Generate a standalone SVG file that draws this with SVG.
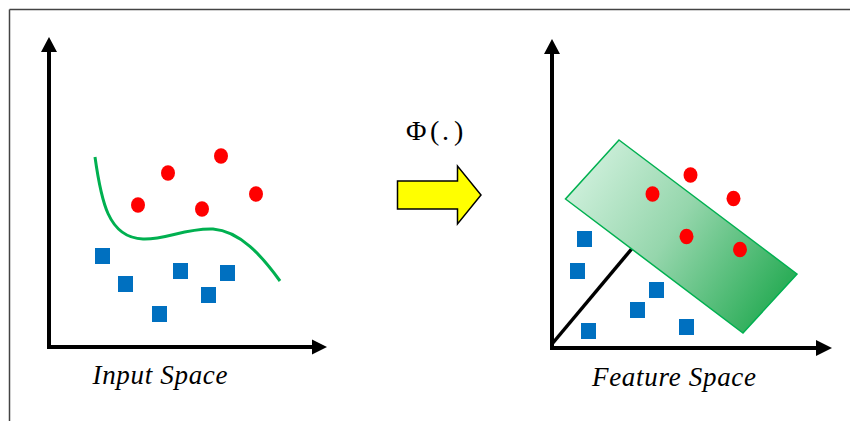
<svg xmlns="http://www.w3.org/2000/svg" width="850" height="421" viewBox="0 0 850 421">
<style>
.axis{stroke:#000;stroke-width:4;fill:none}
.head{fill:#000}
.red{fill:#FF0000}
.blue{fill:#0070C0}
.lbl{font-family:"Liberation Serif","Times New Roman",serif;font-style:italic;font-size:27px;fill:#000}
</style>
<defs>
<linearGradient id="g" x1="565" y1="170" x2="770" y2="305" gradientUnits="userSpaceOnUse">
<stop offset="0" stop-color="#D4F2E0"/>
<stop offset="0.5" stop-color="#95D6AC"/>
<stop offset="1" stop-color="#2EAE5A"/>
</linearGradient>
</defs>
<g id="frame">
<line x1="9.5" y1="9.5" x2="850" y2="9.5" stroke="#444" stroke-width="1.5"/>
<line x1="9.5" y1="9.5" x2="9.5" y2="421" stroke="#444" stroke-width="1.5"/>
</g>
<g id="input-axes">
<line class="axis" x1="49" y1="50" x2="49" y2="347"/>
<line class="axis" x1="47" y1="347" x2="314" y2="347"/>
<polygon class="head" points="49,37 41,52 57,52"/>
<polygon class="head" points="327,347 312,339.5 312,354.5"/>
</g>
<g id="input-boundary">
<path d="M95,157 C101,200 108,238 143,239 C165,240 185,228 213,229 C240,231 262,256 280,281" fill="none" stroke="#00B050" stroke-width="3"/>
</g>
<g id="input-circles">
<ellipse class="red" cx="138" cy="205" rx="7" ry="7.7"/>
<ellipse class="red" cx="168" cy="173" rx="7" ry="7.7"/>
<ellipse class="red" cx="221" cy="156" rx="7" ry="7.7"/>
<ellipse class="red" cx="202" cy="209" rx="7" ry="7.7"/>
<ellipse class="red" cx="256" cy="194" rx="7" ry="7.7"/>
</g>
<g id="input-squares">
<rect class="blue" x="95" y="248" width="15" height="16"/>
<rect class="blue" x="118" y="276" width="15" height="16"/>
<rect class="blue" x="152" y="306" width="15" height="16"/>
<rect class="blue" x="173" y="263" width="15" height="16"/>
<rect class="blue" x="201" y="287" width="15" height="16"/>
<rect class="blue" x="220" y="265" width="15" height="16"/>
</g>
<g id="input-label">
<text class="lbl" x="92.5" y="384" textLength="135" lengthAdjust="spacing">Input Space</text>
</g>
<g id="mapping">
<text x="406 430 442 454" y="139.5" font-family="Liberation Serif,'Times New Roman',serif" font-size="28">Φ(.)</text>
<polygon points="397.5,181 457.5,181 457.5,166 481,195 457.5,224 457.5,209 397.5,209" fill="#FFFF00" stroke="#000" stroke-width="1.5" stroke-linejoin="miter"/>
</g>
<g id="feature-axes">
<line class="axis" x1="552" y1="52" x2="552" y2="348"/>
<line class="axis" x1="550" y1="348" x2="818" y2="348"/>
<polygon class="head" points="552,39 544,54 560,54"/>
<polygon class="head" points="832,348 816,340 816,356"/>
</g>
<g id="feature-normal">
<line x1="552" y1="344" x2="650" y2="227" stroke="#000" stroke-width="3.5"/>
</g>
<g id="margin-band">
<polygon points="619,140 797,274 743,333 565.5,199" fill="url(#g)" stroke="#00B050" stroke-width="1.5"/>
</g>
<g id="feature-circles">
<ellipse class="red" cx="652.5" cy="194" rx="7" ry="7.7"/>
<ellipse class="red" cx="690.5" cy="175" rx="7" ry="7.7"/>
<ellipse class="red" cx="733.5" cy="198.5" rx="7" ry="7.7"/>
<ellipse class="red" cx="686.5" cy="236.5" rx="7" ry="7.7"/>
<ellipse class="red" cx="740" cy="249.5" rx="7" ry="7.7"/>
</g>
<g id="feature-squares">
<rect class="blue" x="577" y="231" width="15" height="16"/>
<rect class="blue" x="570" y="263" width="15" height="16"/>
<rect class="blue" x="649" y="282" width="15" height="16"/>
<rect class="blue" x="630" y="302" width="15" height="16"/>
<rect class="blue" x="581" y="323" width="15" height="16"/>
<rect class="blue" x="679" y="319" width="15" height="16"/>
</g>
<g id="feature-label">
<text class="lbl" x="592" y="385.5" textLength="164" lengthAdjust="spacing">Feature Space</text>
</g>
</svg>
